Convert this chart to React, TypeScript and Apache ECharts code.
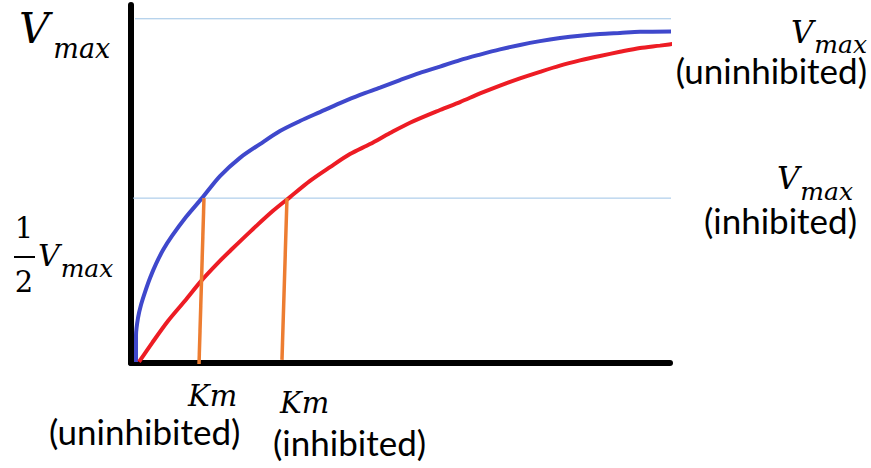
import React, { useEffect, useRef } from "react";
import * as echarts from "echarts";

// x in substrate units (0..100 across the x-axis), y in fraction of Vmax
const uninhibitedX = [0.93, 0.93, 1.3, 1.86, 2.6, 3.53, 4.64, 5.94, 7.61, 10.2, 13.17, 16.51, 20.22, 23.93, 27.64, 31.35, 35.06, 38.78, 42.49, 46.2, 49.91, 53.62, 57.33, 61.04, 64.75, 68.46, 72.17, 75.88, 79.59, 83.3, 87.01, 90.72, 94.43, 100.19];
const uninhibitedY = [0.003, 0.081, 0.131, 0.169, 0.206, 0.247, 0.288, 0.328, 0.369, 0.424, 0.479, 0.543, 0.596, 0.636, 0.674, 0.703, 0.729, 0.755, 0.779, 0.8, 0.822, 0.843, 0.861, 0.88, 0.896, 0.911, 0.924, 0.935, 0.944, 0.951, 0.956, 0.959, 0.962, 0.963];

const inhibitedX = [1.48, 3.9, 6.86, 10.02, 12.99, 16.14, 18.74, 22.08, 26.35, 29.5, 33.21, 36.92, 40.63, 44.34, 48.05, 51.76, 57.33, 61.04, 64.75, 68.46, 72.17, 75.88, 79.59, 83.3, 87.01, 90.72, 94.43, 98.14, 102.04];
const inhibitedY = [0.003, 0.058, 0.122, 0.181, 0.238, 0.291, 0.331, 0.381, 0.442, 0.482, 0.529, 0.569, 0.607, 0.636, 0.668, 0.698, 0.735, 0.758, 0.783, 0.806, 0.827, 0.846, 0.864, 0.879, 0.892, 0.904, 0.915, 0.922, 0.93];

const vmaxLineX = [0.74, 104.08];
const vmaxLevel = 1.0;
const halfLineX = [0.37, 101.3];
const halfLevel = 0.479;

const kmUninhibitedX = [13.54, 12.62];
const kmUninhibitedY = [0.479, -0.003];
const kmInhibitedX = [28.94, 28.01];
const kmInhibitedY = [0.479, 0.009];

const zip = (xs: number[], ys: number[]) => xs.map((x, i) => [x, ys[i]]);

const MATH = "'DejaVu Serif', serif";
const SANS = "Lato, 'Open Sans', sans-serif";
const CAP = 35;

const mathText = (text: string, x: number, y: number, size: number, italic = true, align = "left") => ({
  type: "text",
  x,
  y,
  silent: true,
  style: {
    text,
    fill: "#000",
    font: `${italic ? "italic " : ""}${size}px ${MATH}`,
    textAlign: align,
    textVerticalAlign: "middle",
  },
});

const vStyle = (size: number) => ({ fontFamily: MATH, fontStyle: "italic", fontSize: size, fill: "#000", color: "#000" });
const subStyle = (size: number, drop: number, gap: number, right = 0) => ({
  fontFamily: MATH,
  fontStyle: "italic",
  fontSize: size,
  fill: "#000",
  color: "#000",
  padding: [drop, right, 0, gap],
});

// V with subscript "max" as one rich text; padding on the subscript lowers it
const vmaxText = (x: number, y: number, vSize: number, sSize: number, drop: number, gap: number, align = "left") => ({
  type: "text",
  x,
  y,
  silent: true,
  style: {
    text: "{v|V}{s|max}",
    textAlign: align,
    textVerticalAlign: "middle",
    rich: { v: vStyle(vSize), s: subStyle(sSize, drop, gap) },
  },
});

// V_max over a "(...)" caption, right aligned, in one text block
const vmaxCaption = (caption: string, x: number, top: number, drop: number, capLine: number, subRight: number) => ({
  type: "text",
  x,
  y: top,
  silent: true,
  style: {
    text: `{v|V}{s|max}\n{p|${caption}}`,
    textAlign: "right",
    textVerticalAlign: "top",
    rich: {
      v: vStyle(31),
      s: subStyle(25, drop, 1, subRight),
      p: { fontFamily: SANS, fontSize: CAP, fill: "#000", color: "#000", lineHeight: capLine },
    },
  },
});

// Km over a "(...)" caption, left aligned, in one text block
const kmCaption = (caption: string, x: number, top: number, indent: number, line: number) => ({
  type: "text",
  x,
  y: top,
  silent: true,
  style: {
    text: `{k|Km}\n{p|${caption}}`,
    textAlign: "left",
    textVerticalAlign: "top",
    rich: {
      k: { fontFamily: MATH, fontStyle: "italic", fontSize: 29, fill: "#000", color: "#000", lineHeight: line, padding: [0, 0, 0, indent] },
      p: { fontFamily: SANS, fontSize: CAP, fill: "#000", color: "#000", lineHeight: line },
    },
  },
});

export default function App() {
  const ref = useRef<HTMLDivElement>(null);
  useEffect(() => {
    if (!ref.current) return;
    const chart = echarts.init(ref.current, undefined, { renderer: "svg" });
    chart.setOption({
      animation: false,
      backgroundColor: "#fff",
      grid: { left: 131, right: 201, top: 5, bottom: 105 },
      xAxis: {
        type: "value",
        min: 0,
        max: 100,
        axisLine: { show: true, lineStyle: { color: "#000", width: 6 } },
        axisTick: { show: false },
        axisLabel: { show: false },
        splitLine: { show: false },
      },
      yAxis: {
        type: "value",
        min: 0,
        max: 1.04,
        axisLine: { show: true, lineStyle: { color: "#000", width: 6 } },
        axisTick: { show: false },
        axisLabel: { show: false },
        splitLine: { show: false },
      },
      series: [
        {
          type: "line",
          data: zip(vmaxLineX, [vmaxLevel, vmaxLevel]),
          showSymbol: false,
          clip: false,
          silent: true,
          lineStyle: { color: "#9DC3E6", width: 1 },
        },
        {
          type: "line",
          data: zip(halfLineX, [halfLevel, halfLevel]),
          showSymbol: false,
          clip: false,
          silent: true,
          lineStyle: { color: "#9DC3E6", width: 1 },
        },
        {
          type: "line",
          name: "uninhibited",
          data: zip(uninhibitedX, uninhibitedY),
          showSymbol: false,
          clip: false,
          smooth: 0.3,
          lineStyle: { color: "#3F48CC", width: 4 },
        },
        {
          type: "line",
          name: "inhibited",
          data: zip(inhibitedX, inhibitedY),
          showSymbol: false,
          clip: false,
          smooth: 0.3,
          lineStyle: { color: "#ED1C24", width: 4 },
        },
        {
          type: "line",
          data: zip(kmUninhibitedX, kmUninhibitedY),
          showSymbol: false,
          clip: false,
          lineStyle: { color: "#ED7D31", width: 3.5 },
        },
        {
          type: "line",
          data: zip(kmInhibitedX, kmInhibitedY),
          showSymbol: false,
          clip: false,
          lineStyle: { color: "#ED7D31", width: 3.5 },
        },
      ],
      graphic: [
        vmaxText(19, 28.5, 42, 27, 40, 4),
        mathText("1", 24, 228, 29, false, "center"),
        { type: "rect", shape: { x: 14, y: 256, width: 21, height: 2 }, style: { fill: "#000" }, silent: true },
        mathText("2", 24, 282, 29, false, "center"),
        vmaxText(38, 255.6, 30, 25, 25, 1),
        vmaxCaption("(uninhibited)", 867, 7.8, 24, 26.4, 0),
        vmaxCaption("(inhibited)", 857, 152.8, 26, 32.4, 4),
        kmCaption("(uninhibited)", 49, 378.5, 139, 35),
        kmCaption("(inhibited)", 273, 383.5, 7, 39),
      ],
    });
    return () => chart.dispose();
  }, []);
  return <div ref={ref} style={{ position: "absolute", left: 0, top: 0, width: 871, height: 468 }} />;
}
